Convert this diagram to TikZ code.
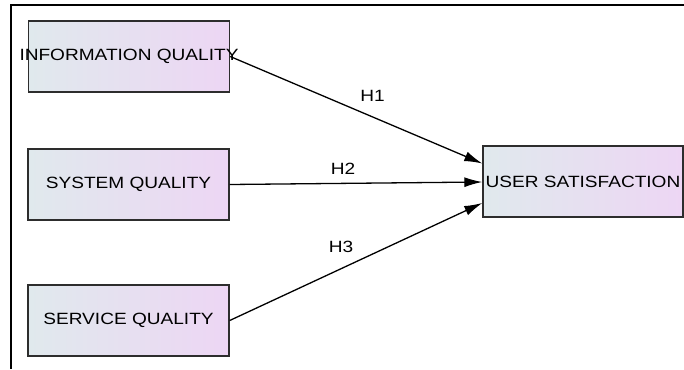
\documentclass[tikz,border=0pt]{standalone}
\usepackage{fontspec}
\setmainfont{Liberation Sans}
\usetikzlibrary{arrows.meta,calc}
\definecolor{boxleft}{RGB}{224,233,237}
\definecolor{boxright}{RGB}{237,214,244}
\definecolor{boxline}{RGB}{45,45,45}
\newcommand{\wide}[1]{\makebox[0pt]{\scalebox{1.17}[1]{#1}}}
\tikzset{
  construct/.style={draw=boxline, line width=1.4pt, left color=boxleft, right color=boxright,
    minimum width=201pt, minimum height=71pt, inner sep=0pt,
    font=\fontsize{16.3}{18}\selectfont},
  path/.style={line width=1.3pt, -{Latex[length=18pt,width=10pt]}},
  hyp/.style={font=\fontsize{16.3}{18}\selectfont, inner sep=0pt},
}
\begin{document}
\begin{tikzpicture}[x=1pt,y=-1pt]
  \useasboundingbox (0,0) rectangle (684,369);
  % outer frame (top and left only)
  \coordinate (fa) at (684,5);
  \coordinate (fb) at (11,5);
  \coordinate (fc) at (11,369);
  \draw[line width=1.5pt] (fa) -- (fb) -- (fc);

  % constructs
  \node[construct] (iq) at (129,56.5) {\wide{INFORMATION QUALITY}};
  \node[construct] (sq) at (128.5,184.5) {\wide{SYSTEM QUALITY}};
  \node[construct] (svq) at (128.5,320.5) {\wide{SERVICE QUALITY}};
  \node[construct, minimum width=200pt] (us) at (583,181.5) {\wide{USER SATISFACTION}};

  % hypothesised paths
  \draw[path] (iq.east) -- ($(us.west)+(0,-18)$);
  \draw[path] (sq.east) -- ($(us.west)+(0,0.5)$);
  \draw[path] (svq.east) -- ($(us.west)+(0,21.5)$);

  % path labels
  \node[hyp] (h1) at (372.5,96) {\wide{H1}};
  \node[hyp] (h2) at (343,168.5) {\wide{H2}};
  \node[hyp] (h3) at (341,246.5) {\wide{H3}};
\end{tikzpicture}
\end{document}
